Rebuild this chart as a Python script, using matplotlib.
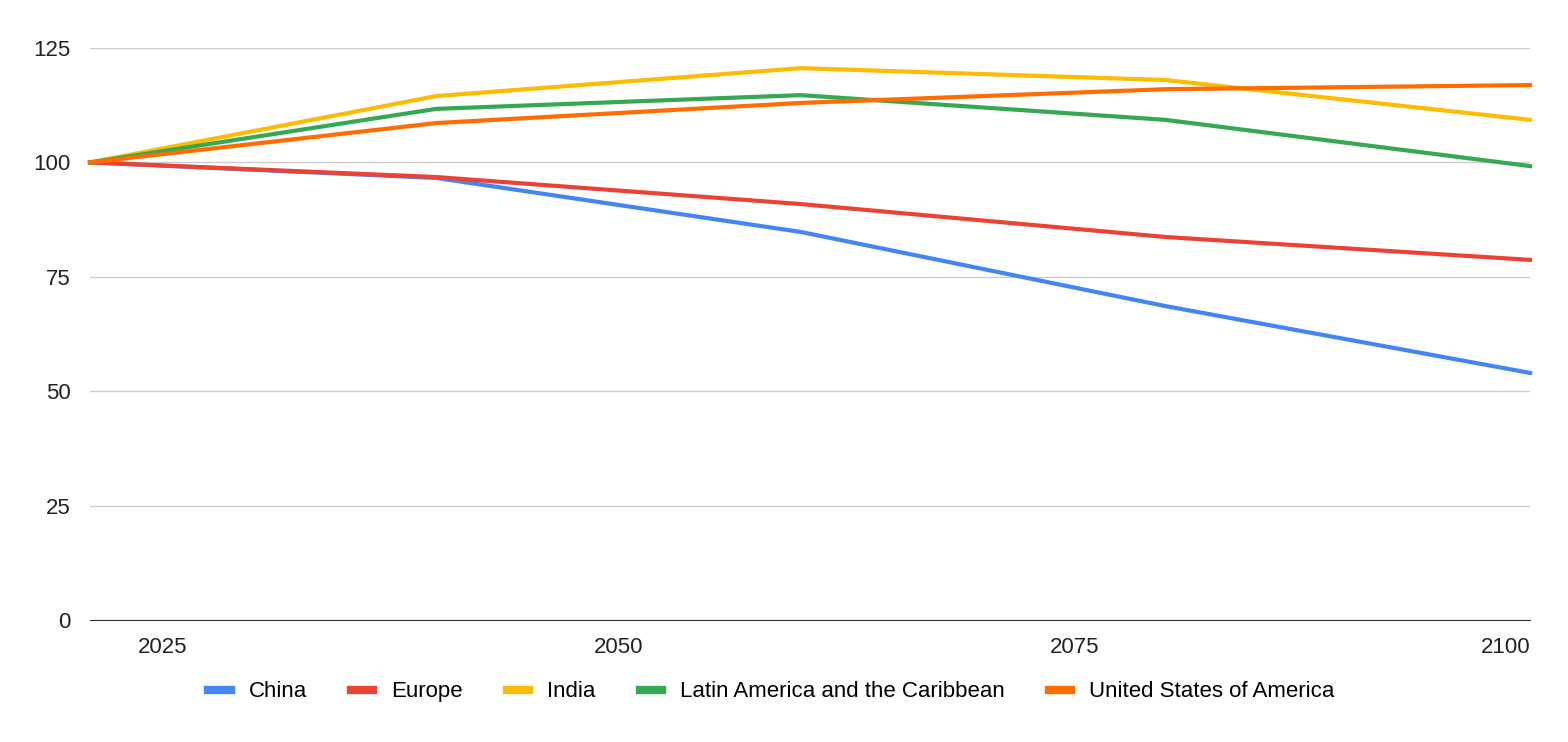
import matplotlib
matplotlib.use("Agg")
import matplotlib.pyplot as plt

years = [2021, 2040, 2060, 2080, 2100]
china = [100, 96.6, 84.8, 68.6, 54.0]
europe = [100, 96.8, 90.9, 83.7, 78.7]
india = [100, 114.5, 120.6, 118.0, 109.3]
latam = [100, 111.7, 114.7, 109.3, 99.2]
usa = [100, 108.6, 113.0, 116.0, 116.9]
labels = ["China", "Europe", "India", "Latin America and the Caribbean", "United States of America"]
colors = ["#4285F4", "#EA4335", "#FBBC04", "#34A853", "#FF6D01"]
yticks = [0, 25, 50, 75, 100, 125]
xticks = [2025, 2050, 2075, 2100]

plt.rcParams["font.family"] = ["Liberation Sans", "DejaVu Sans"]
fig = plt.figure(figsize=(15.68, 7.42), dpi=100)
ax = fig.add_axes([0.0574, 0.1644, 0.9184, 0.7709])
for s, lab, c in zip([china, europe, india, latam, usa], labels, colors):
    ax.plot(years, s, color=c, lw=3, label=lab, clip_on=False)
ax.set_xlim(2021, 2100)
ax.set_ylim(0, 125)
ax.set_yticks(yticks)
ax.set_xticks(xticks)
ax.grid(axis="y", color="#cccccc", lw=1)
ax.set_axisbelow(True)
for sp in ["top", "right", "left"]:
    ax.spines[sp].set_visible(False)
ax.spines["bottom"].set_color("#333333")
ax.tick_params(length=0, labelsize=16, colors="#222222")
ax.tick_params(axis="y", pad=14)
ax.tick_params(axis="x", pad=12)
xl = ax.get_xticklabels()
xl[-1].set_horizontalalignment("right")
xl[-1].set_x(2100)
leg = fig.legend(loc="center", bbox_to_anchor=(0.492, 0.068), ncol=5, frameon=False,
                 fontsize=16, handlelength=1.0, handleheight=0.4, columnspacing=2.0)
for h in leg.legend_handles:
    h.set_linewidth(6)
fig.savefig("out.png", dpi=100)
